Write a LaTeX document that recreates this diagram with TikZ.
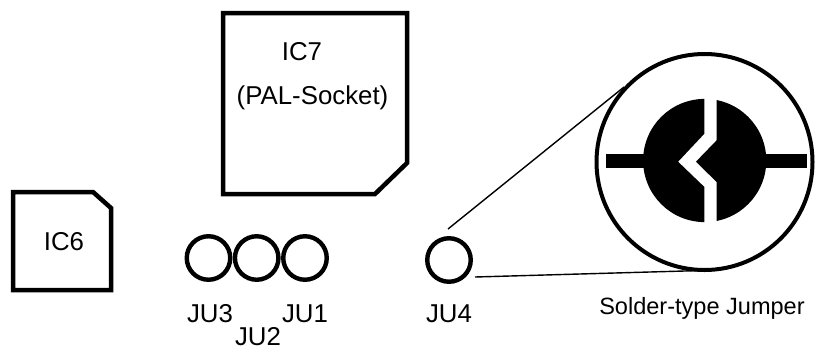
\documentclass[tikz,border=0pt]{standalone}
\usepackage{fontspec}
\setmainfont{Liberation Sans}
\begin{document}
\begin{tikzpicture}[
            x=0.02cm, y=-0.02cm,
            chip/.style={line width=4.5*0.02cm, line join=miter},
            jumper/.style={circle, draw, line width=4.4*0.02cm, minimum size=43.5*0.02cm, inner sep=0pt},
            callout/.style={line width=0.8pt},
            label/.style={font=\fontsize{14.7pt}{17pt}\selectfont, inner sep=0pt}
        ]
            \useasboundingbox (0,0) rectangle (835,349);

            % Chips
            \draw[chip] (223,13) -- (407,13) -- (407,163) -- (375,194) -- (223,194) -- cycle;
            \draw[chip] (13,192) -- (93,192) -- (111,208) -- (111,290) -- (13,290) -- cycle;
            \node[label] (ic7) at (302,52) {IC7};
            \node[label] (pal) at (312.5,98) {(PAL-Socket)};
            \node[label] (ic6) at (64,242) {IC6};

            % Jumpers
            \node[jumper] (ju3) at (208.5,258) {};
            \node[jumper] (ju2) at (256.7,258) {};
            \node[jumper] (ju1) at (305,258) {};
            \node[jumper] (ju4) at (449,260) {};
            \node[label] (ju3text) at (210,314) {JU3};
            \node[label] (ju2text) at (258,336.5) {JU2};
            \node[label] (ju1text) at (305,314) {JU1};
            \node[label] (ju4text) at (449,314) {JU4};

            % Magnified jumper
            \node[circle, draw, line width=4*0.02cm, minimum size=216*0.02cm, inner sep=0pt] (lens) at (704.5,162) {};
            \fill (605.7,154.3) rectangle (806.7,168.3);
            \fill (704.7,160.5) circle (61.6);
            \fill[white] (704.3,96) -- (716.7,96) -- (716.7,140) -- (695.7,161.7) -- (716.7,182.3)
                -- (716.7,224) -- (704.3,224) -- (704.3,186.7) -- (678.3,161.7) -- (704.3,134) -- cycle;
            \node[label, font=\fontsize{13.4pt}{16pt}\selectfont] (solder) at (702,308) {Solder-type Jumper};

            % Callout lines
            \coordinate (ju4top) at (448,229);
            \coordinate (ju4low) at (475,277);
            \coordinate (lenstop) at (624,87);
            \coordinate (lenslow) at (702,270.5);
            \draw[callout] (ju4top) -- (lenstop);
            \draw[callout] (ju4low) -- (lenslow);
        \end{tikzpicture}
\end{document}
